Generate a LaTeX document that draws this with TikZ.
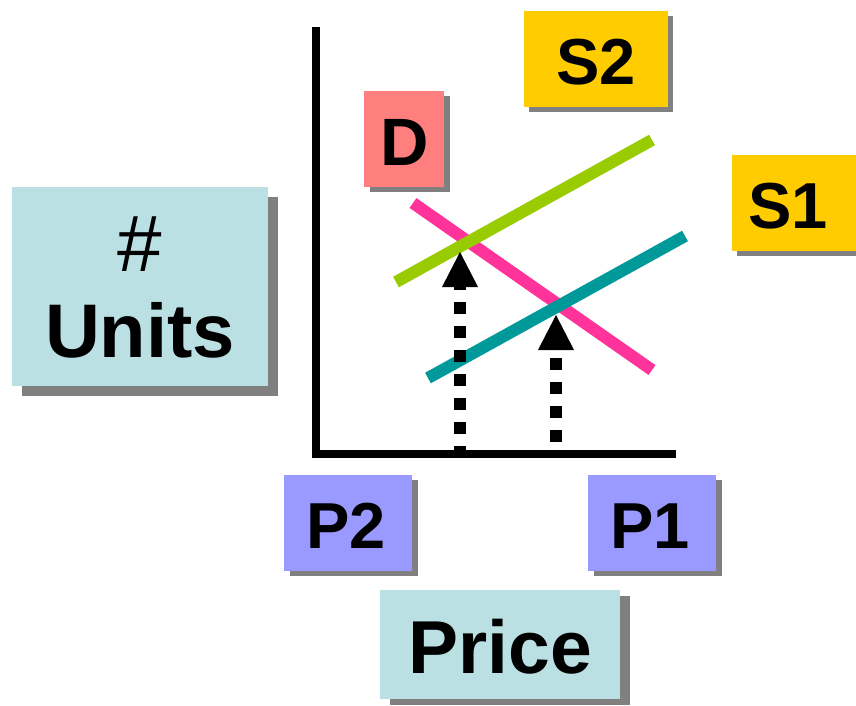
\documentclass[tikz,border=0pt]{standalone}
\usepackage{fontspec}
\setmainfont{Liberation Sans}
\usetikzlibrary{arrows.meta,backgrounds}
\definecolor{cyanbox}{HTML}{BAE0E3}
\definecolor{yellowbox}{HTML}{FFCC00}
\definecolor{pinkbox}{HTML}{FF7F7F}
\definecolor{purplebox}{HTML}{9999FF}
\definecolor{shadowgray}{HTML}{808080}
\definecolor{sgreen}{HTML}{99CC00}
\definecolor{dpink}{HTML}{FF3399}
\definecolor{steal}{HTML}{009999}
\tikzset{
  lbl/.style={inner sep=0pt, anchor=base, font=\bfseries\fontsize{#1}{#1}\selectfont},
  axisline/.style={line width=8pt, line cap=butt},
  curve/.style={line width=12pt, line cap=butt},
  uparrow/.style={line width=12pt, dash pattern=on 12pt off 12pt, line cap=butt,
    -{Triangle[length=35pt,width=36pt,line width=0pt]}},
}
\begin{document}
\begin{tikzpicture}[x=1pt,y=-1pt]
\useasboundingbox (0,0) rectangle (856,705);
% boxes
\fill[cyanbox] (12,187) coordinate (unitsNW) rectangle (268,386) coordinate (unitsSE);
\fill[yellowbox] (524,11) coordinate (s2NW) rectangle (668,107) coordinate (s2SE);
\fill[pinkbox] (364,91) coordinate (dNW) rectangle (444,187) coordinate (dSE);
\fill[yellowbox] (732,155) coordinate (s1NW) rectangle (856,251) coordinate (s1SE);
\fill[purplebox] (284,475) coordinate (p2NW) rectangle (412,571) coordinate (p2SE);
\fill[purplebox] (588,475) coordinate (p1NW) rectangle (716,571) coordinate (p1SE);
\fill[cyanbox] (380,590) coordinate (priceNW) rectangle (620,699) coordinate (priceSE);
\begin{scope}[on background layer]
  \fill[shadowgray] ([shift={(10,10)}]unitsNW) rectangle ([shift={(10,10)}]unitsSE);
  \fill[shadowgray] ([shift={(5,5)}]s2NW) rectangle ([shift={(5,5)}]s2SE);
  \fill[shadowgray] ([shift={(6,5)}]dNW) rectangle ([shift={(6,5)}]dSE);
  \fill[shadowgray] ([shift={(5,5)}]s1NW) rectangle ([shift={(5,5)}]s1SE);
  \fill[shadowgray] ([shift={(6,5)}]p2NW) rectangle ([shift={(6,5)}]p2SE);
  \fill[shadowgray] ([shift={(6,5)}]p1NW) rectangle ([shift={(6,5)}]p1SE);
  \fill[shadowgray] ([shift={(10,6)}]priceNW) rectangle ([shift={(10,6)}]priceSE);
\end{scope}
% labels
\node[inner sep=0pt, anchor=base, font=\mdseries\fontsize{80}{80}\selectfont] (hash) at (140,271) {\#};
\node[lbl=76] (units) at (140,357) {Units};
\node[lbl=65] (s2) at (596,84) {S2};
\node[lbl=67] (d) at (405,165) {D};
\node[lbl=65] (s1) at (788,228) {S1};
\node[lbl=65] (p2) at (346,548) {P2};
\node[lbl=65] (p1) at (650,548) {P1};
\node[lbl=75] (price) at (500,673) {Price};
% axes
\coordinate (ytop) at (316,27);
\coordinate (ybot) at (316,458);
\coordinate (xstart) at (312,454);
\coordinate (xend) at (676,454);
\draw[axisline] (ytop) -- (ybot);
\draw[axisline] (xstart) -- (xend);
% curves
\coordinate (dA) at (413,203);
\coordinate (dB) at (652,370);
\coordinate (s2A) at (396,282);
\coordinate (s2B) at (652,140);
\coordinate (s1A) at (428,378);
\coordinate (s1B) at (685,236);
\draw[curve, dpink] (dA) -- (dB);
\draw[curve, sgreen] (s2A) -- (s2B);
\draw[curve, steal] (s1A) -- (s1B);
% arrows
\coordinate (a2base) at (460,458);
\coordinate (a2tip) at (460,252);
\coordinate (a1base) at (556,442);
\coordinate (a1tip) at (556,315);
\draw[uparrow] (a2base) -- (a2tip);
\draw[uparrow] (a1base) -- (a1tip);
\end{tikzpicture}
\end{document}
